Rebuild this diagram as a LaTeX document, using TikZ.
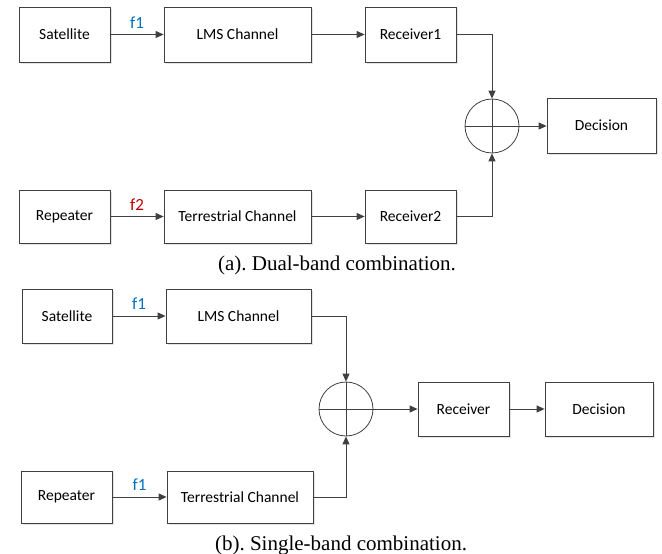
\documentclass[tikz,border=0pt]{standalone}
\usepackage{fontspec}
\setmainfont{Liberation Serif}
\newfontfamily\boxfont{Carlito}
\usetikzlibrary{arrows.meta,shadows,calc}
\definecolor{linegray}{RGB}{64,64,64}
\definecolor{fblue}{RGB}{0,112,192}
\definecolor{fred}{RGB}{192,0,0}
\frenchspacing
\begin{document}
\begin{tikzpicture}[x=1pt,y=-1pt,
  blockbox/.style={draw=linegray, line width=0.8pt, fill=white, minimum height=#1, inner sep=0pt,
    font=\boxfont\fontsize{15.5}{18}\selectfont,
    drop shadow={fill=black!30, opacity=0.35, shadow xshift=1.6pt, shadow yshift=-1.6pt}},
  blockbox/.default=55pt,
  sumcirc/.style={draw=linegray, line width=0.8pt, circle, minimum size=54pt, inner sep=0pt},
  conn/.style={draw=linegray, line width=0.9pt},
  arr/.style={conn, -{Triangle[length=8pt,width=7pt]}},
  flab/.style={font=\boxfont\fontsize{17}{20}\selectfont, inner sep=0pt},
  captxt/.style={font=\fontsize{21}{25}\selectfont, inner sep=0pt}
]
\useasboundingbox (0,0) rectangle (662,554);

% ---------- (a) ----------
\node[blockbox, minimum width=91pt] (sat1) at (64.5,34.5) {Satellite};
\node[blockbox, minimum width=147pt] (lms1) at (237.5,34.5) {LMS Channel};
\node[blockbox, minimum width=91pt] (rx1) at (410.5,34.5) {Receiver1};
\node[sumcirc] (sum1) at (492,126) {};
\node[blockbox, minimum width=109pt] (dec1) at (601.5,125.5) {Decision};
\node[blockbox=53pt, minimum width=91pt] (rep1) at (64.5,216.5) {Repeater};
\node[blockbox=53pt, minimum width=147pt] (ter1) at (237.5,216.5) {Terrestrial Channel};
\node[blockbox=53pt, minimum width=91pt] (rx2) at (410.5,216.5) {Receiver2};
\node[captxt] (capa) at (337,265) {(a). Dual-band combination.};

\draw[conn] (sum1.west) -- (sum1.east);
\draw[conn] (sum1.north) -- (sum1.south);
\draw[arr] (sat1) -- node[flab, above=6pt, text=fblue] (f1a) {f1} (lms1);
\draw[arr] (lms1) -- (rx1);
\draw[arr] (rx1.east) -| (sum1.north);
\draw[arr] (rep1) -- node[flab, above=6pt, text=fred] (f2a) {f2} (ter1);
\draw[arr] (ter1) -- (rx2);
\draw[arr] (rx2.east) -| (sum1.south);
\draw[arr] (sum1.east) -- (dec1.west |- sum1.east);

% ---------- (b) ----------
\node[blockbox=54pt, minimum width=90pt] (sat2) at (67,316) {Satellite};
\node[blockbox=54pt, minimum width=145pt] (lms2) at (238.5,316) {LMS Channel};
\node[sumcirc] (sum2) at (346,409) {};
\node[blockbox=54pt, minimum width=91pt] (rx3) at (463.5,409) {Receiver};
\node[blockbox=54pt, minimum width=108pt] (dec2) at (599,409) {Decision};
\node[blockbox=52pt, minimum width=91pt] (rep2) at (66.5,497) {Repeater};
\node[blockbox=52pt, minimum width=146pt] (ter2) at (240,497) {Terrestrial Channel};
\node[captxt] (capb) at (341,545) {(b). Single-band combination.};

\draw[conn] (sum2.west) -- (sum2.east);
\draw[conn] (sum2.north) -- (sum2.south);
\draw[arr] (sat2) -- node[flab, above=6pt, text=fblue] (f1b) {f1} (lms2);
\draw[arr] (lms2.east) -| (sum2.north);
\draw[arr] (rep2) -- node[flab, above=6pt, text=fblue] (f1c) {f1} (ter2);
\draw[arr] (ter2.east) -| (sum2.south);
\draw[arr] (sum2.east) -- (rx3);
\draw[arr] (rx3) -- (dec2);
\end{tikzpicture}
\end{document}
